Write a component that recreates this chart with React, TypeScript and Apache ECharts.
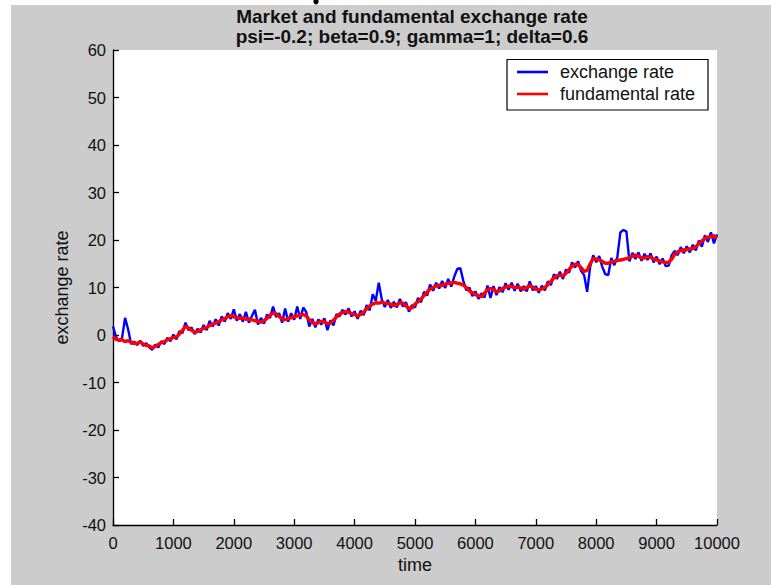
import React, { useEffect, useRef } from "react";
import * as echarts from "echarts";

const xTicks = { min: 0, max: 10000, interval: 1000 };
const yTicks = { min: -40, max: 60, interval: 10 };
const timeStep = 50;

const fundamentalRate = [
  -0.3, -0.9, -1.1, -1.0, -1.4, -1.2, -1.5, -1.8, -1.7, -1.5,
  -1.9, -2.2, -2.3, -2.7, -2.4, -2.0, -1.6, -1.4, -1.0, -0.8,
  -0.5, -0.4, 0.2, 1.0, 1.8, 1.5, 1.0, 0.6, 0.7, 1.1,
  1.4, 1.6, 2.0, 2.3, 2.5, 2.8, 3.2, 3.4, 3.9, 4.1,
  3.8, 3.7, 3.5, 3.6, 3.3, 3.4, 3.2, 3.0, 2.9, 2.7,
  3.0, 3.5, 4.2, 4.6, 4.5, 3.9, 3.4, 3.2, 3.5, 3.6,
  3.9, 4.0, 4.2, 4.3, 4.0, 3.2, 2.6, 2.3, 2.6, 2.9,
  2.8, 2.4, 2.5, 3.1, 3.8, 4.4, 4.7, 5.0, 4.8, 4.5,
  4.3, 4.0, 4.3, 4.8, 5.5, 6.1, 6.5, 6.8, 6.7, 6.9,
  6.7, 6.6, 6.5, 6.2, 6.4, 6.8, 6.7, 6.1, 5.6, 5.7,
  6.5, 7.0, 7.6, 8.3, 9.0, 9.7, 10.0, 10.3, 10.5, 10.4,
  10.7, 10.9, 10.9, 11.1, 10.9, 10.8, 10.5, 10.0, 9.3, 8.9,
  8.5, 8.3, 8.1, 8.8, 9.5, 9.8, 9.6, 9.1, 9.3, 9.8,
  10.1, 10.3, 10.2, 10.0, 10.1, 9.9, 9.6, 10.0, 10.4, 10.1,
  9.6, 9.5, 9.7, 10.0, 10.6, 11.3, 12.0, 12.5, 12.6, 12.4,
  13.0, 13.8, 14.5, 14.9, 14.8, 14.2, 13.4, 13.6, 15.0, 16.1,
  16.0, 15.8, 15.5, 15.1, 15.1, 15.4, 15.5, 15.7, 15.8, 15.9,
  16.1, 16.3, 16.6, 16.8, 16.6, 16.2, 16.2, 16.5, 16.4, 16.0,
  15.8, 15.6, 15.4, 15.3, 15.3, 16.0, 17.0, 17.5, 17.8, 17.9,
  18.0, 18.1, 18.2, 18.6, 19.2, 19.8, 20.3, 20.6, 20.7, 20.9,
  20.4,
];

const exchangeRate = [
  1.8, -0.4, -1.3, -0.6, 3.6, 1.2, -1.9, -1.4, -2.1, -1.2,
  -2.3, -1.7, -2.6, -3.1, -2.0, -2.6, -1.3, -1.9, -0.6, -1.3,
  0.1, -0.9, 0.8, 0.4, 2.6, 1.0, 1.6, 0.2, 1.3, 0.5,
  2.1, 1.0, 3.0, 1.8, 3.3, 2.0, 3.9, 2.8, 4.6, 3.4,
  5.4, 3.0, 4.4, 2.8, 4.9, 2.6, 4.0, 5.3, 2.2, 3.6,
  2.4, 4.3, 3.6, 6.0, 3.8, 4.6, 2.6, 5.6, 2.8, 4.6,
  3.2, 6.0, 3.4, 5.8, 4.8, 1.8, 3.4, 1.6, 3.3, 2.2,
  3.5, 1.0, 3.1, 2.0, 4.4, 3.9, 5.3, 4.3, 5.6, 3.9,
  5.0, 3.4, 5.1, 4.2, 6.3, 5.2, 8.6, 7.2, 11.0, 7.5,
  5.9, 7.4, 5.7, 7.0, 5.8, 7.6, 6.0, 6.9, 4.9, 6.3,
  5.8, 7.8, 6.9, 9.1, 8.3, 10.6, 9.3, 11.0, 9.8, 11.4,
  9.9, 11.8, 10.2, 12.3, 13.9, 14.1, 11.4, 9.4, 10.0, 8.2,
  9.2, 7.6, 8.8, 7.9, 10.4, 7.8, 10.3, 8.4, 10.1, 9.0,
  10.9, 9.5, 11.0, 9.3, 10.8, 9.2, 10.3, 9.2, 11.3, 9.4,
  10.3, 8.9, 10.4, 9.4, 11.3, 10.5, 12.8, 11.8, 13.3, 11.8,
  13.8, 13.1, 15.3, 14.2, 15.5, 13.5, 12.6, 9.1, 14.3, 16.8,
  15.3, 16.6, 14.4, 12.8, 12.6, 16.2, 14.7, 16.4, 21.6, 22.1,
  21.8, 15.5, 17.3, 16.0, 17.4, 15.6, 17.1, 15.8, 17.2, 15.3,
  16.5, 14.9, 16.1, 14.5, 14.6, 16.8, 17.7, 16.8, 18.5, 17.2,
  18.7, 17.4, 19.0, 17.8, 19.9, 18.6, 21.0, 19.6, 21.6, 19.3,
  21.2,
];

const legendLabels = ["exchange rate", "fundamental rate"];
const titleLines = [
  "Market and fundamental exchange rate",
  "psi=-0.2; beta=0.9; gamma=1; delta=0.6",
];

const toPairs = (vals: number[]) => vals.map((v, i) => [i * timeStep, v]);

export default function App() {
  const ref = useRef<HTMLDivElement>(null);

  useEffect(() => {
    document.body.style.margin = "0";
    if (!ref.current) return;
    const chart = echarts.init(ref.current, null, { renderer: "svg" });
    const font = "'Liberation Sans', Arial, Helvetica, sans-serif";
    const axisCommon = {
      axisLine: { show: true, onZero: false, lineStyle: { color: "#000", width: 1.3 } },
      axisTick: { show: true, inside: true, length: 6, lineStyle: { color: "#000", width: 1.3 } },
      splitLine: { show: false },
      nameLocation: "middle" as const,
      nameTextStyle: { fontFamily: font, fontSize: 18, color: "#111" },
    };
    chart.setOption({
      animation: false,
      backgroundColor: "transparent",
      grid: {
        left: 113,
        right: 54,
        top: 50,
        bottom: 60,
        show: true,
        backgroundColor: "#ffffff",
        borderWidth: 0,
      },
      xAxis: {
        type: "value",
        ...xTicks,
        ...axisCommon,
        name: "time",
        nameGap: 31,
        axisLabel: {
          margin: 9,
          fontFamily: font,
          fontSize: 16.5,
          color: "#111",
          formatter: (v: number) => String(v),
        },
      },
      yAxis: {
        type: "value",
        ...yTicks,
        ...axisCommon,
        name: "exchange rate",
        nameGap: 42,
        axisLabel: {
          margin: 7,
          fontFamily: font,
          fontSize: 16.5,
          color: "#111",
          formatter: (v: number) => String(v),
        },
      },
      series: [
        {
          name: legendLabels[0],
          type: "line",
          data: toPairs(exchangeRate),
          showSymbol: false,
          lineStyle: { color: "#0000ff", width: 2.4 },
          itemStyle: { color: "#0000ff" },
        },
        {
          name: legendLabels[1],
          type: "line",
          data: toPairs(fundamentalRate),
          showSymbol: false,
          lineStyle: { color: "#ff0000", width: 3.4 },
          itemStyle: { color: "#ff0000" },
        },
      ],
      graphic: [
        {
          type: "ellipse",
          shape: { cx: 316, cy: 1.5, rx: 2.6, ry: 3 },
          style: { fill: "#000" },
        },
        {
          type: "text",
          x: 412,
          y: 16,
          style: {
            text: titleLines[0],
            font: `bold 19px ${font}`,
            fill: "#111",
            align: "center",
            verticalAlign: "middle",
          },
        },
        {
          type: "text",
          x: 412,
          y: 36,
          style: {
            text: titleLines[1],
            font: `bold 19px ${font}`,
            fill: "#111",
            align: "center",
            verticalAlign: "middle",
          },
        },
        {
          type: "rect",
          shape: { x: 507, y: 59.5, width: 201, height: 50.5 },
          style: { fill: "#ffffff", stroke: "#000", lineWidth: 1.2 },
          z: 10,
        },
        {
          type: "line",
          shape: { x1: 517, y1: 72, x2: 548, y2: 72 },
          style: { stroke: "#0000ff", lineWidth: 2.6 },
          z: 11,
        },
        {
          type: "line",
          shape: { x1: 517, y1: 94, x2: 548, y2: 94 },
          style: { stroke: "#ff0000", lineWidth: 2.6 },
          z: 11,
        },
        {
          type: "text",
          x: 560,
          y: 72,
          style: {
            text: legendLabels[0],
            font: `18px ${font}`,
            fill: "#111",
            align: "left",
            verticalAlign: "middle",
          },
          z: 11,
        },
        {
          type: "text",
          x: 560,
          y: 94,
          style: {
            text: legendLabels[1],
            font: `18px ${font}`,
            fill: "#111",
            align: "left",
            verticalAlign: "middle",
          },
          z: 11,
        },
      ],
    });
    return () => chart.dispose();
  }, []);

  return (
    <div style={{ position: "relative", width: 771, height: 585, background: "#ffffff", overflow: "hidden" }}>
      <div style={{ position: "absolute", left: 11, top: 5, width: 760, height: 580, background: "#cccccc" }} />
      <div ref={ref} style={{ position: "absolute", left: 0, top: 0, width: 771, height: 585 }} />
    </div>
  );
}
